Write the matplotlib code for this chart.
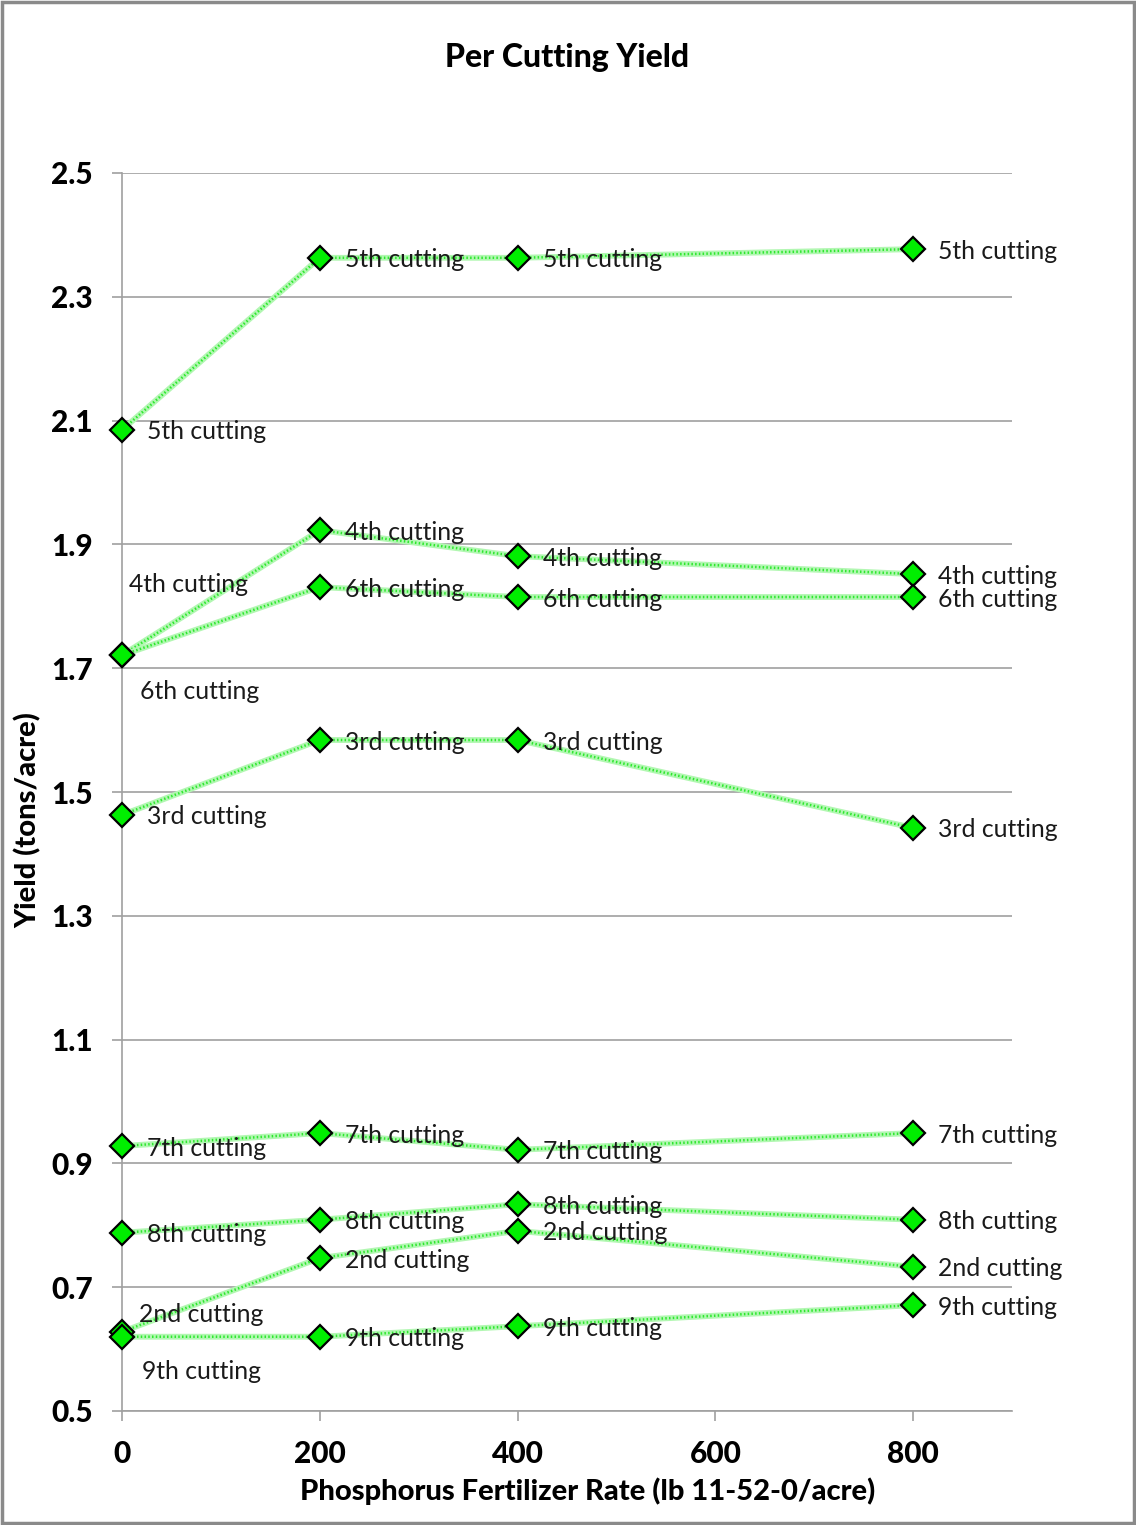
import matplotlib.pyplot as plt
from matplotlib.patches import Rectangle

plt.rcParams['font.family'] = ['Lato', 'DejaVu Sans']

rates = [0, 200, 400, 800]

# yield per cutting (tons/acre) at each phosphorus rate
cut5 = [2.085, 2.363, 2.363, 2.377]
cut4 = [1.721, 1.923, 1.881, 1.852]
cut6 = [1.721, 1.831, 1.815, 1.815]
cut3 = [1.463, 1.584, 1.584, 1.442]
cut7 = [0.928, 0.949, 0.922, 0.949]
cut8 = [0.788, 0.809, 0.834, 0.809]
cut2 = [0.628, 0.747, 0.791, 0.733]
cut9 = [0.620, 0.620, 0.637, 0.671]

series = [("5th cutting", cut5), ("4th cutting", cut4), ("6th cutting", cut6),
          ("3rd cutting", cut3), ("7th cutting", cut7), ("8th cutting", cut8),
          ("2nd cutting", cut2), ("9th cutting", cut9)]

yticks = [0.5, 0.7, 0.9, 1.1, 1.3, 1.5, 1.7, 1.9, 2.1, 2.3, 2.5]
xticks = [0, 200, 400, 600, 800]

# label offsets (pixels) for the crowded points at rate 0
special = {("4th cutting", 0): (7, 71), ("6th cutting", 0): (18, -36),
           ("2nd cutting", 0): (17, 17), ("9th cutting", 0): (20, -35)}

fig = plt.figure(figsize=(11.36, 15.25), dpi=100)
ax = fig.add_axes([122/1136, 1 - 1411/1525, 890/1136, 1238/1525])

for name, vals in series:
    ax.plot(rates, vals, color='#b2f7b2', lw=4.2, zorder=2, clip_on=False)
    ax.plot(rates, vals, color='#2ee82e', lw=1.8, ls=(0, (0.6, 0.9)), zorder=2, clip_on=False)
    ax.plot(rates, vals, ls='none', marker='D', ms=12.5, mfc='#00ee00', mec='black',
            mew=1.6, zorder=4, clip_on=False)
    for x, y in zip(rates, vals):
        dx, dy = special.get((name, x), (25, -2))
        ax.annotate(name, (x, y), xytext=(dx * 0.72, dy * 0.72), textcoords='offset points',
                    ha='left', va='center', fontsize=17.8, color='#1a1a1a', zorder=5)

ax.set_xlim(0, 900)
ax.set_ylim(0.5, 2.5)
ax.set_xticks(xticks)
ax.set_yticks(yticks)
ax.set_yticklabels([f"{t:.1f}" for t in yticks])
ax.grid(axis='y', color='#a0a0a0', lw=1.2)
ax.set_axisbelow(True)
for s in ['top', 'right']:
    ax.spines[s].set_visible(False)
ax.spines['left'].set_color('#a0a0a0')
ax.spines['bottom'].set_color('#a0a0a0')
ax.spines['left'].set_linewidth(1.2)
ax.spines['bottom'].set_linewidth(1.2)
ax.tick_params(axis='both', colors='#a0a0a0', length=7, width=1.2)
ax.tick_params(axis='y', pad=14, labelsize=21.5, labelcolor='black')
ax.tick_params(axis='x', pad=14, labelsize=21.5, labelcolor='black')
for lab in ax.get_xticklabels() + ax.get_yticklabels():
    lab.set_fontweight('black')

fig.text(567/1136, 1 - 58/1525, "Per Cutting Yield", ha='center', va='center',
         fontsize=23, fontweight='black')
fig.text(588/1136, 1 - 1491/1525, "Phosphorus Fertilizer Rate (lb 11-52-0/acre)",
         ha='center', va='center', fontsize=21, fontweight='black')
fig.text(28/1136, 1 - 820/1525, "Yield (tons/acre)", ha='center', va='center',
         rotation=90, fontsize=21, fontweight='black')

# outer chart border
fig.patches.append(Rectangle((0.0015, 0.001), 0.997, 0.998, transform=fig.transFigure,
                             fill=False, ec='#8a8a8a', lw=2.5))

fig.savefig("out.png", dpi=100)
